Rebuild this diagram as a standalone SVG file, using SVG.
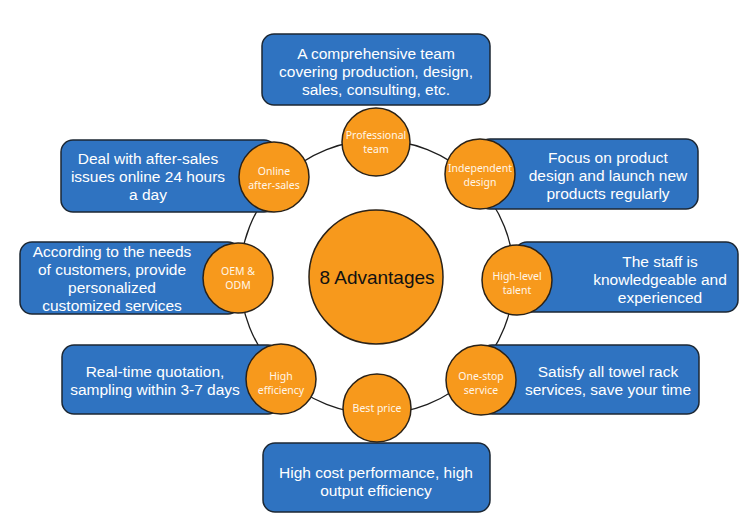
<svg xmlns="http://www.w3.org/2000/svg" width="750" height="525" viewBox="0 0 750 525">
<style>
.box{fill:#2F73C1;stroke:#1c2733;stroke-width:1.5}
.dot{fill:#F7991C;stroke:#2a2218;stroke-width:1.5}
.bt{font-family:"Liberation Sans",Arial,sans-serif;font-size:15.5px;fill:#ffffff;text-anchor:middle}
.ct{font-family:"Noto Sans","Open Sans",sans-serif;font-size:10.5px;fill:#fff6e8;text-anchor:middle}
.ring{fill:none;stroke:#1e1e1e;stroke-width:1.3}
</style>
<rect width="750" height="525" fill="#ffffff"/>
<g id="connectors">
<circle class="ring" cx="377" cy="277" r="137"/>
</g>
<g id="center">
<circle class="dot" cx="376" cy="277" r="67"/>
<text x="377" y="284" font-family="Liberation Sans, Arial, sans-serif" font-size="19" fill="#111" text-anchor="middle">8 Advantages</text>
</g>
<g id="professional">
<rect class="box" x="262" y="34" width="228" height="71" rx="12"/>
<text class="bt" x="376" y="59">A comprehensive team</text>
<text class="bt" x="376" y="77">covering production, design,</text>
<text class="bt" x="376" y="95">sales, consulting, etc.</text>
<circle class="dot" cx="376" cy="142" r="34"/>
<text class="ct" x="376" y="139">Professional</text>
<text class="ct" x="376" y="153">team</text>
</g>
<g id="online">
<rect class="box" x="61" y="140" width="215" height="72" rx="12"/>
<text class="bt" x="148" y="164">Deal with after-sales</text>
<text class="bt" x="148" y="182">issues online 24 hours</text>
<text class="bt" x="148" y="200">a day</text>
<circle class="dot" cx="274" cy="177" r="35"/>
<text class="ct" x="274" y="175">Online</text>
<text class="ct" x="274" y="189">after-sales</text>
</g>
<g id="independent">
<rect class="box" x="478" y="139" width="220" height="70" rx="12"/>
<text class="bt" x="608" y="163">Focus on product</text>
<text class="bt" x="608" y="181">design and launch new</text>
<text class="bt" x="608" y="199">products regularly</text>
<circle class="dot" cx="480" cy="174" r="35"/>
<text class="ct" x="480" y="172">Independent</text>
<text class="ct" x="480" y="186">design</text>
</g>
<g id="oem">
<rect class="box" x="20" y="242" width="220" height="72" rx="12"/>
<text class="bt" x="112" y="257">According to the needs</text>
<text class="bt" x="112" y="275">of customers, provide</text>
<text class="bt" x="112" y="293">personalized</text>
<text class="bt" x="112" y="311">customized services</text>
<circle class="dot" cx="238" cy="278" r="35"/>
<text class="ct" x="238" y="275">OEM &amp;</text>
<text class="ct" x="238" y="289">ODM</text>
</g>
<g id="talent">
<rect class="box" x="515" y="242" width="223" height="70" rx="12"/>
<text class="bt" x="660" y="267">The staff is</text>
<text class="bt" x="660" y="285">knowledgeable and</text>
<text class="bt" x="660" y="303">experienced</text>
<circle class="dot" cx="517" cy="280" r="35"/>
<text class="ct" x="517" y="280">High-level</text>
<text class="ct" x="517" y="294">talent</text>
</g>
<g id="efficiency">
<rect class="box" x="62" y="345" width="218" height="69" rx="12"/>
<text class="bt" x="155" y="377">Real-time quotation,</text>
<text class="bt" x="155" y="395">sampling within 3-7 days</text>
<circle class="dot" cx="281" cy="379" r="35"/>
<text class="ct" x="281" y="380">High</text>
<text class="ct" x="281" y="394">efficiency</text>
</g>
<g id="onestop">
<rect class="box" x="480" y="345" width="219" height="69" rx="12"/>
<text class="bt" x="608" y="377">Satisfy all towel rack</text>
<text class="bt" x="608" y="395">services, save your time</text>
<circle class="dot" cx="481" cy="380" r="35"/>
<text class="ct" x="481" y="380">One-stop</text>
<text class="ct" x="481" y="394">service</text>
</g>
<g id="price">
<rect class="box" x="263" y="443" width="227" height="69" rx="12"/>
<text class="bt" x="376" y="478">High cost performance, high</text>
<text class="bt" x="376" y="496">output efficiency</text>
<circle class="dot" cx="377" cy="408" r="34"/>
<text class="ct" x="377" y="412">Best price</text>
</g>
</svg>
